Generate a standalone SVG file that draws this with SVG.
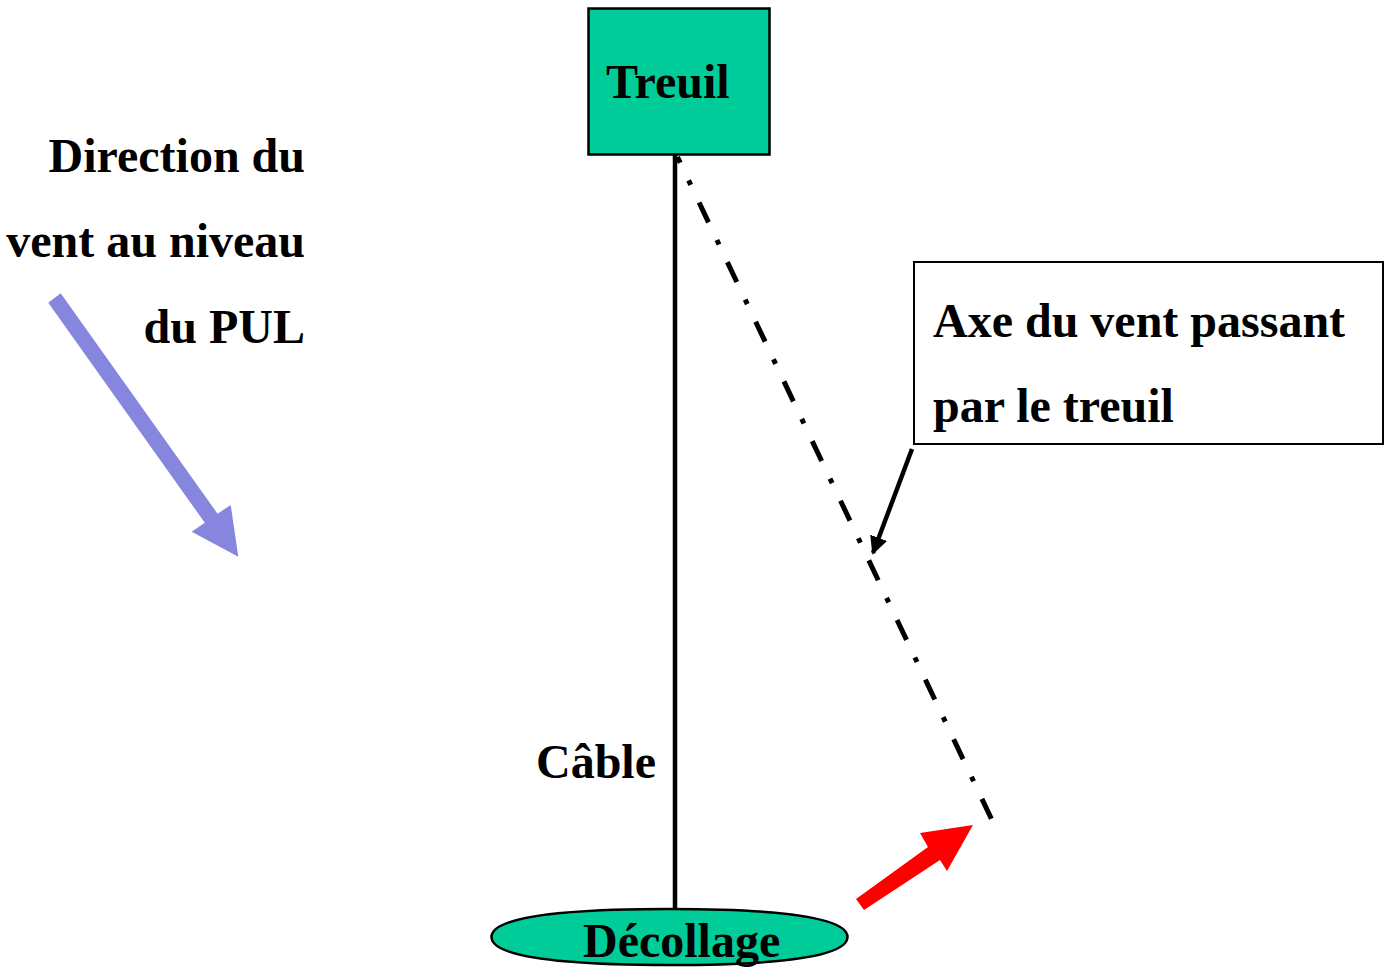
<svg xmlns="http://www.w3.org/2000/svg" width="1387" height="967" viewBox="0 0 1387 967">
<style>
  text { font-family: "Liberation Serif", "Times New Roman", serif; font-weight: bold; font-size: 48px; fill: #000; }
  .node { fill: #00CC99; stroke: #000; stroke-width: 2.5; }
</style>
<defs>
  <marker id="ah" viewBox="0 0 10 10" refX="9" refY="5" markerWidth="4" markerHeight="4" orient="auto" markerUnits="strokeWidth">
    <path d="M0,0 L10,5 L0,10 z" fill="#000"/>
  </marker>
</defs>
<rect width="1387" height="967" fill="#fff"/>
<g id="connectors">
  <line id="cable" x1="675" y1="155" x2="675" y2="909" stroke="#000" stroke-width="4.5"/>
  <line id="axe" x1="677.5" y1="157" x2="992.9" y2="822" stroke="#000" stroke-width="5" stroke-dasharray="22 19.5 5 19.5" stroke-dashoffset="15.6"/>
  <line id="callout-arrow" x1="912" y1="449" x2="873" y2="553" stroke="#000" stroke-width="4.5" marker-end="url(#ah)"/>
</g>
<g id="treuil">
  <rect class="node" x="588.5" y="8.5" width="181" height="146"/>
  <text x="606" y="98" font-size="45">Treuil</text>
</g>
<g id="decollage">
  <path class="node" d="M669.5,909 C803,909 847.5,921 847.5,937 C847.5,953 803,965 669.5,965 C536,965 491.5,953 491.5,937 C491.5,921 536,909 669.5,909 Z"/>
  <text x="583" y="957">Décollage</text>
</g>
<g id="label-cable">
  <text x="536" y="778" font-size="46">Câble</text>
</g>
<g id="wind-label">
  <text x="305" y="172" text-anchor="end">Direction du</text>
  <text x="305" y="257" text-anchor="end">vent au niveau</text>
  <text x="305" y="343" text-anchor="end">du PUL</text>
</g>
<g id="wind-arrow">
  <polygon points="48.3,302.7 60.7,293.3 217.6,513.8 230.7,505 238.3,556.7 191.7,531.7 204.8,522.8" fill="#8686DE"/>
</g>
<g id="axe-callout">
  <rect x="914" y="262" width="469" height="182" fill="#fff" stroke="#000" stroke-width="2"/>
  <text x="933" y="337">Axe du vent passant</text>
  <text x="933" y="422">par le treuil</text>
</g>
<g id="red-arrow">
  <polygon points="856,899 928,847 920,833 973,825 947,871 940,860 864,910" fill="#FF0000"/>
</g>
</svg>
